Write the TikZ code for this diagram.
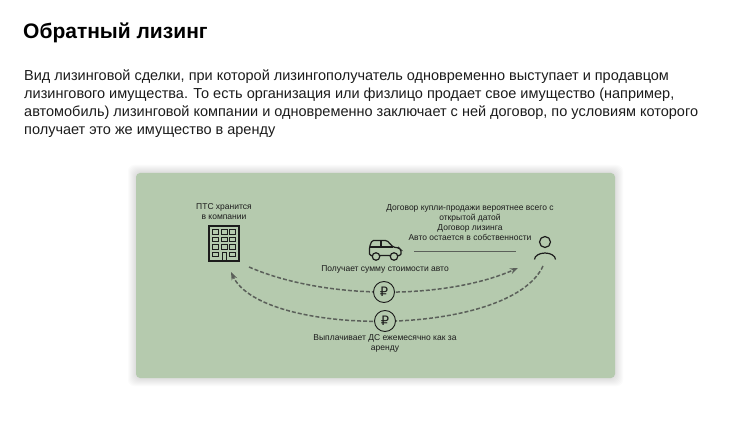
\documentclass[tikz,border=0pt]{standalone}
\usepackage{fontspec}
\setmainfont{Liberation Sans}
\newfontfamily\rublefont{DejaVu Sans}
\usetikzlibrary{arrows.meta}

\definecolor{panelgreen}{HTML}{B5CAAE}
\definecolor{flowgray}{HTML}{5B605A}
\definecolor{inkdark}{HTML}{1C1C1C}

\begin{document}
\begin{tikzpicture}[x=1pt,y=-1pt,
  >={Stealth[length=8pt,width=6pt]},
  note/.style={font=\fontsize{8.5}{10}\selectfont, align=center, text=inkdark, inner sep=0pt},
  money/.style={circle, draw=inkdark, line width=0.9pt, fill=panelgreen, minimum size=21pt, inner sep=0pt, text=inkdark, font=\rublefont\fontsize{13}{13}\selectfont},
  flow/.style={draw=flowgray, line width=1.5pt, dash pattern=on 4pt off 2pt},
  icon/.style={draw=inkdark, line width=1.2pt}]
\useasboundingbox (0,0) rectangle (750,422);
\fill[white] (0,0) rectangle (750,422);

% heading and intro
\node[anchor=west, inner sep=0pt, font=\bfseries\fontsize{21}{25}\selectfont] (title) at (23,33) {Обратный лизинг};
\node[anchor=north west, align=left, inner sep=0pt, text=inkdark, font=\fontsize{14.5}{18}\selectfont] (intro) at (24,70)
  {Вид лизинговой сделки, при которой лизингополучатель одновременно выступает и продавцом\\
   лизингового имущества. То есть организация или физлицо продает свое имущество (например,\\
   автомобиль) лизинговой компании и одновременно заключает с ней договор, по условиям которого\\
   получает это же имущество в аренду};

% panel with soft shadow
\foreach \g in {1,...,8}
  \fill[black, opacity=0.016, rounded corners=6pt] (136-\g,173-\g) rectangle (615+\g,378+\g);
\fill[panelgreen, rounded corners=4pt] (136,173) rectangle (615,378);

% company
\node[note] (storenote) at (224,212) {ПТС хранится\\в компании};
\node[icon, minimum width=30pt, minimum height=35pt, inner sep=0pt] (company) at (224,243.5) {};
\foreach \c in {0,1,2}
  \foreach \r in {0,1,2}
    \draw[inkdark, line width=0.9pt] (212.5+\c*8.5,229.5+\r*7.5) rectangle +(6,4.5);
\draw[inkdark, line width=0.9pt] (212.5,252) rectangle +(6,4.5);
\draw[inkdark, line width=0.9pt] (229.5,252) rectangle +(6,4.5);
\draw[inkdark, line width=0.9pt] (222,252) rectangle (226,261);

% car
\draw[icon, rounded corners=1.5pt] (369.5,255.5) -- (369.5,247) -- (372,240.5) -- (387,240.5) -- (393,247)
  -- (399,248) -- (401,250) -- (401,255.5) -- cycle;
\draw[icon] (369.5,247) -- (393,247) (381,240.5) -- (381,247);
\node[icon, circle, fill=panelgreen, minimum size=7.5pt, inner sep=0pt] (wheelL) at (376,256.5) {};
\node[icon, circle, fill=panelgreen, minimum size=7.5pt, inner sep=0pt] (wheelR) at (394,256.5) {};

% client
\node[note] (dealnote) at (470,223) {Договор купли-продажи вероятнее всего с\\открытой датой\\Договор лизинга\\Авто остается в собственности};
\node[icon, circle, minimum size=11pt, inner sep=0pt] (client) at (545,242) {};
\draw[icon] (534.5,259.5) arc[start angle=180, end angle=360, x radius=10.5, y radius=6.5];

\coordinate (leaseL) at (414,251);
\coordinate (leaseR) at (516,251);
\draw[flowgray, line width=0.8pt] (leaseL) -- (leaseR);

% money flows
\node[note] (salenote) at (385,269.5) {Получает сумму стоимости авто};
\coordinate (saleS) at (249,267);
\coordinate (saleE) at (518,268);
\draw[flow, ->] (saleS) .. controls (325,300) and (445,300) .. (saleE);
\node[money] (rubsale) at (384,292) {₽};

\coordinate (rentS) at (543,266);
\coordinate (rentE) at (231,272);
\draw[flow, ->] (rentS) .. controls (510,338) and (262,338) .. (rentE);
\node[money] (rubrent) at (385,321) {₽};
\node[note] (rentnote) at (385,343) {Выплачивает ДС ежемесячно как за\\аренду};
\end{tikzpicture}
\end{document}
